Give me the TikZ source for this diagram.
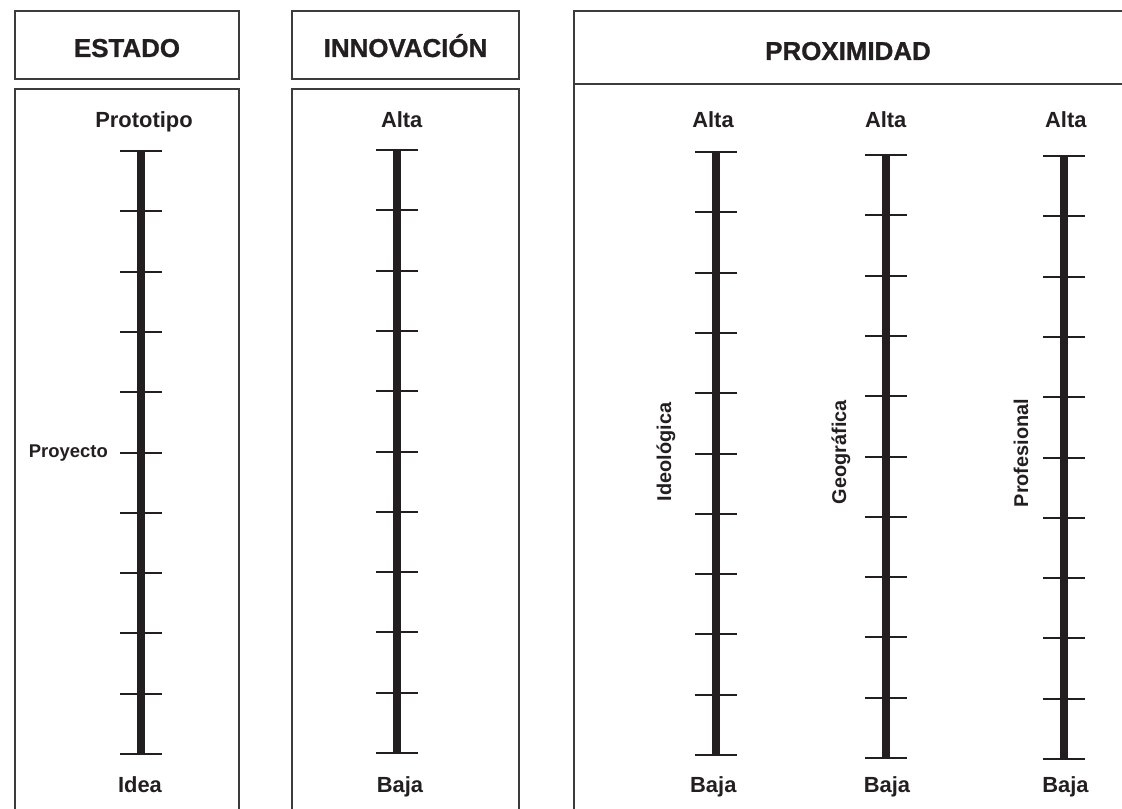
\documentclass[tikz,border=0pt]{standalone}
\usepackage{fontspec}
\setmainfont{Liberation Sans}
\newfontfamily\heavyfont{Liberation Sans}[BoldFeatures={FakeBold=1}]
\usepackage{tikz}
\usetikzlibrary{positioning, calc}
\definecolor{ink}{HTML}{231F20}
\definecolor{frame}{HTML}{3C3C3C}

\begin{document}
\begin{tikzpicture}[
        x=1bp, y=-1bp,
        header/.style={font=\heavyfont\bfseries\fontsize{26}{26}\selectfont, text=ink, anchor=base, inner sep=0pt},
        endlabel/.style={font=\bfseries\fontsize{22}{22}\selectfont, text=ink, anchor=base, inner sep=0pt},
        sidelabel/.style={font=\bfseries\fontsize{20}{20}\selectfont, text=ink, anchor=base, rotate=90, inner sep=0pt},
        panel/.style={draw=frame, line width=2bp},
        bar/.style={draw=ink, line width=8bp},
        tickline/.style={draw=ink, line width=2.6bp}
    ]

    \useasboundingbox (0,0) rectangle (1122,809);
    \clip (0,0) rectangle (1122,809);

    % Panels (bottom edge runs off the page)
    \draw[panel] (15,11) rectangle (239,79);
    \draw[panel] (15,815) |- (239,89) -- (239,815);
    \draw[panel] (292,11) rectangle (519,79);
    \draw[panel] (292,815) |- (519,89) -- (519,815);
    \draw[panel] (574,815) |- (1130,11);
    \draw[panel] (574,84) -- (1130,84);

    % Headers
    \node[header] (estado)      at (127,57)   {ESTADO};
    \node[header] (innovacion)  at (405.5,57) {INNOVACIÓN};
    \node[header] (proximidad)  at (848,60)   {PROXIMIDAD};

    % --------------------------------------------------
    % Scales: 11 ticks each, about 60.3 apart
    \foreach \s/\x/\t in {estado/141/151, innov/397/150, ideo/716/152, geo/886/155, prof/1064/156} {
        \coordinate (\s-top) at (\x,\t);
        \coordinate (\s-bot) at (\x,\t+603);
        \foreach \k in {0,...,10} {
            \pgfmathsetmacro\dy{round(60.3*\k)}
            \draw[tickline] ($(\s-top)+(-21,\dy)$) -- ++(42,0);
        }
        \draw[bar] (\s-top) -- (\s-bot);
    }

    % --------------------------------------------------
    % Estado
    \node[endlabel] (estado-hi) at (144,127.7) {Prototipo};
    \node[endlabel] (estado-lo) at (140,792)   {Idea};
    \node[endlabel, anchor=base east, font=\bfseries\fontsize{18.5}{18.5}\selectfont] (proyecto) at (108,457) {Proyecto};

    % --------------------------------------------------
    % Innovacion and Proximidad ends
    \foreach \s/\x in {innov/401.7, ideo/713, geo/885.7, prof/1065.8} {
        \node[endlabel] (\s-hi) at (\x,127.7) {Alta};
    }
    \foreach \s/\x in {innov/400, ideo/713.3, geo/887, prof/1065.5} {
        \node[endlabel] (\s-lo) at (\x,792) {Baja};
    }

    % Proximidad kinds
    \node[sidelabel] (ideo-name) at (671,452)  {Ideológica};
    \node[sidelabel] (geo-name)  at (846,452)  {Geográfica};
    \node[sidelabel] (prof-name) at (1028,453) {Profesional};

\end{tikzpicture}
\end{document}
